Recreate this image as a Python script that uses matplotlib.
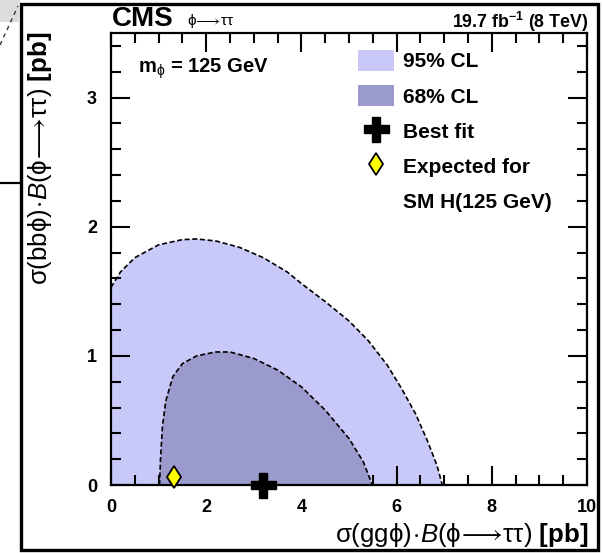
import numpy as np
import matplotlib
matplotlib.use("Agg")
import matplotlib.pyplot as plt
from matplotlib.patches import Patch, Rectangle
from matplotlib.lines import Line2D

plt.rcParams['font.family'] = ['Liberation Sans', 'DejaVu Sans']
plt.rcParams['mathtext.fontset'] = 'custom'
plt.rcParams['mathtext.rm'] = 'Liberation Sans'
plt.rcParams['mathtext.it'] = 'Liberation Sans:italic'
plt.rcParams['mathtext.bf'] = 'Liberation Sans:bold'

# 95% CL contour in (sigma_gg, sigma_bb) plane
cl95_x = [0.0, 0.2, 0.5, 1.0, 1.5, 1.8, 2.2, 2.7, 3.2, 3.7, 4.0, 4.5, 5.0, 5.4, 5.8, 6.1, 6.4, 6.65, 6.85, 6.96]
cl95_y = [1.53, 1.65, 1.76, 1.86, 1.90, 1.905, 1.89, 1.84, 1.76, 1.65, 1.56, 1.42, 1.27, 1.12, 0.93, 0.75, 0.55, 0.34, 0.15, 0.0]

# 68% CL contour
cl68_x = [1.02, 1.04, 1.08, 1.15, 1.3, 1.5, 1.8, 2.2, 2.5, 3.0, 3.5, 4.0, 4.5, 5.0, 5.3, 5.49]
cl68_y = [0.0, 0.2, 0.45, 0.65, 0.84, 0.94, 1.0, 1.03, 1.03, 0.98, 0.89, 0.76, 0.58, 0.36, 0.18, 0.0]

best_fit = (3.2, 0.0)
sm_expected = (1.33, 0.06)

legend_labels = ['95% CL', '68% CL', 'Best fit', 'Expected for', 'SM H(125 GeV)']

c95 = '#c9c9f9'
c68 = '#9a9acc'

W, H = 603, 553
fig = plt.figure(figsize=(W / 100, H / 100), dpi=100)
ax = fig.add_axes([111 / W, 1 - 485 / H, (587 - 111) / W, (485 - 33) / H])

# filled regions, closed along the axes
ax.fill([0.0] + cl95_x, [0.0] + cl95_y, color=c95, lw=0, zorder=1)
ax.fill(cl68_x, cl68_y, color=c68, lw=0, zorder=2)
ax.plot(cl95_x, cl95_y, color='black', lw=1.2, ls=(0, (3, 1.6)), zorder=3)
ax.plot(cl68_x, cl68_y, color='black', lw=1.2, ls=(0, (3, 1.6)), zorder=3)

ax.plot(*best_fit, marker='P', ms=18, color='black', mec='black', ls='none',
        zorder=6, clip_on=False)
ax.plot(*sm_expected, marker='d', ms=11.5, mfc='#ffff00', mec='black', mew=1.3,
        ls='none', zorder=6, clip_on=False)

ax.set_xlim(0, 10)
ax.set_ylim(0, 3.5)
ax.set_xticks([0, 2, 4, 6, 8, 10])
ax.set_yticks([0, 1, 2, 3])
ax.set_xticks(np.arange(0, 10.01, 0.5), minor=True)
ax.set_yticks(np.arange(0, 3.51, 0.2), minor=True)
ax.tick_params(which='both', direction='in', top=True, right=True, width=1.5, zorder=5)
ax.tick_params(which='major', length=14, labelsize=13, pad=10)
ax.tick_params(which='minor', length=7)
for lab in ax.get_xticklabels() + ax.get_yticklabels():
    lab.set_fontweight('bold')
for sp in ax.spines.values():
    sp.set_linewidth(1.6)
    sp.set_zorder(5)

handles = [
    Patch(facecolor=c95, edgecolor='none'),
    Patch(facecolor=c68, edgecolor='none'),
    Line2D([], [], marker='P', ms=18, color='black', ls='none'),
    Line2D([], [], marker='d', ms=11.5, mfc='#ffff00', mec='black', mew=1.3, ls='none'),
    Line2D([], [], ls='none'),
]
ax.legend(handles, legend_labels, loc='upper left',
          bbox_to_anchor=(358 / W, 1 - 50 / H), bbox_transform=fig.transFigure,
          frameon=False, borderpad=0, borderaxespad=0, handlelength=1.75,
          handleheight=1.15, handletextpad=0.4, labelspacing=0.66,
          prop={'size': 15, 'weight': 'bold'})

# header texts
fig.text(112 / W, 1 - 26 / H, 'CMS', fontsize=20, fontweight='bold', va='baseline')
fig.text(187 / W, 1 - 25 / H, r'$\mathrm{\phi\!\longrightarrow\!\tau\tau}$', fontsize=11,
         va='baseline')
fig.text(588 / W, 1 - 28 / H, r'19.7 fb$^{\mathbf{-1}}$ (8 TeV)', fontsize=12.8,
         fontweight='bold', ha='right', va='baseline')
fig.text(138 / W, 1 - 73 / H, r'm$_{\mathrm{\phi}}$ = 125 GeV', fontsize=14.5,
         fontweight='bold', va='baseline')

# axis titles
fig.text(588 / W, 1 - 535 / H,
         r'$\mathrm{\sigma(gg\phi)\!\cdot\!}\mathit{B}\mathrm{(\phi\!\longrightarrow\!\tau\tau)}$ [pb]',
         fontsize=18.6, fontweight='bold', ha='right', va='center')
fig.text(40 / W, 1 - 32 / H,
         r'$\mathrm{\sigma(bb\phi)\!\cdot\!}\mathit{B}\mathrm{(\phi\!\longrightarrow\!\tau\tau)}$ [pb]',
         fontsize=18.6, fontweight='bold', rotation=90, ha='center', va='top')

# surrounding frame and the bits outside it
fig.patches.append(Rectangle((21 / W, 1 - 550 / H), (598 - 21) / W, (550 - 4) / H,
                             transform=fig.transFigure, fill=False, lw=2.4,
                             edgecolor='black'))
fig.patches.append(Rectangle((0, 1 - 22 / H), 20 / W, 22 / H,
                             transform=fig.transFigure, color='#dcdcdc', lw=0))
fig.lines.append(Line2D([0, 18 / W], [1 - 45 / H, 1 - 6 / H], transform=fig.transFigure,
                        color='#333333', lw=1, ls=(0, (3, 3))))
fig.lines.append(Line2D([0, 21 / W], [1 - 183 / H, 1 - 183 / H], transform=fig.transFigure,
                        color='black', lw=1.6))

fig.savefig('out.png', dpi=100)
